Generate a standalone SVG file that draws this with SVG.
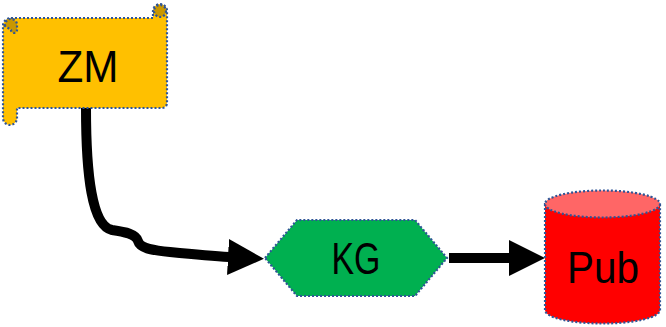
<svg xmlns="http://www.w3.org/2000/svg" width="666" height="327" viewBox="0 0 666 327">
  <style>
    .outline { stroke: #2F5597; stroke-width: 2.2; stroke-dasharray: 2 2; }
    .label { font-family: "Liberation Sans", Arial, sans-serif; font-size: 44px; fill: #000; text-anchor: middle; }
    .wire { fill: none; stroke: #000; stroke-width: 10; stroke-linecap: butt; }
  </style>
  <defs>
    <marker id="arrow" markerUnits="userSpaceOnUse" viewBox="0 0 36 36" refX="1" refY="18" markerWidth="36" markerHeight="36" orient="auto">
      <path d="M0,0 L36,18 L0,36 Z" fill="#000"/>
    </marker>
  </defs>

  <!-- connectors -->
  <g id="connectors">
    <path class="wire" d="M86,108 C86,175 92,226 112,230 C126,232 136,234 138,241 C140,248 150,250 170,252 C190,254 210,256 229,257" marker-end="url(#arrow)"/>
    <path class="wire" d="M449,258 L510,258" stroke-width="11" marker-end="url(#arrow)"/>
  </g>

  <!-- scroll node -->
  <g id="ZM">
    <path class="outline" fill="#FFC000" d="M11,18 H153 V11 A7,7 0 0 1 167,11 V103 A5,5 0 0 1 162,108 H17 V118 A7,7 0 0 1 3,118 V26 A8,8 0 0 1 11,18 Z"/>
    <circle cx="160" cy="11" r="6" fill="#C99700" class="outline"/>
    <path class="outline" d="M5,26 A6,6 0 0 1 17,24 V30 A3,3 0 0 1 11,30 Z" fill="#C99700"/>
    <text class="label" x="88" y="82" textLength="61" lengthAdjust="spacingAndGlyphs">ZM</text>
  </g>

  <!-- hexagon node -->
  <g id="KG">
    <polygon class="outline" fill="#00B050" points="265,258 297,220 415,220 447,258 415,296 297,296"/>
    <text class="label" x="356" y="274" textLength="49" lengthAdjust="spacingAndGlyphs">KG</text>
  </g>

  <!-- cylinder node -->
  <g id="Pub">
    <path class="outline" fill="#FF0000" d="M545,204 V310 A57.5,13.5 0 0 0 660,310 V204 Z"/>
    <ellipse class="outline" cx="602.5" cy="204" rx="57.5" ry="13.5" fill="#FF6666"/>
    <text class="label" x="603" y="283" textLength="72" lengthAdjust="spacingAndGlyphs">Pub</text>
  </g>
</svg>
